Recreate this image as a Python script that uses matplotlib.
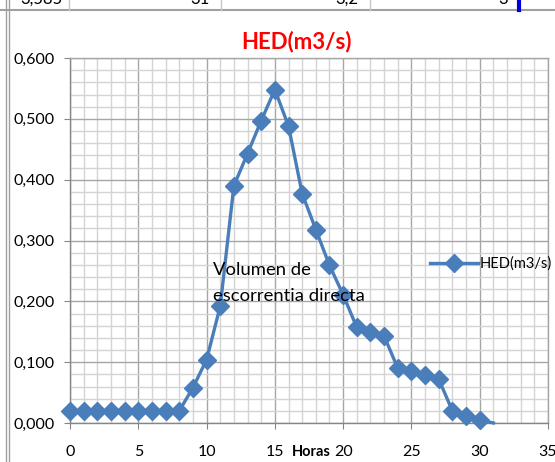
import matplotlib.pyplot as plt
from matplotlib.lines import Line2D
from matplotlib.ticker import MultipleLocator, FuncFormatter

# hidrograma de escorrentia directa
horas = list(range(0, 32))
hed = [0.020, 0.020, 0.020, 0.020, 0.020, 0.020, 0.020, 0.020, 0.020,
       0.058, 0.104, 0.192, 0.390, 0.443, 0.497, 0.548, 0.488, 0.377,
       0.318, 0.259, 0.211, 0.157, 0.150, 0.143, 0.090, 0.085, 0.079,
       0.072, 0.020, 0.012, 0.005, 0.000]
n_marcas = 31  # el ultimo punto no lleva marcador

azul = '#4a7ebb'
plt.rcParams['font.family'] = ['Lato', 'DejaVu Sans']

fig = plt.figure(figsize=(5.55, 4.62), dpi=100)
ax = fig.add_axes([70 / 555, 39 / 462, 478 / 555, 365 / 462])

ax.plot(horas, hed, color=azul, lw=2.4, clip_on=False, zorder=3)
ax.plot(horas[:n_marcas], hed[:n_marcas], ls='none', marker='D', ms=9,
        color=azul, clip_on=False, zorder=4)

ax.set_xlim(0, 35)
ax.set_ylim(0, 0.6)
ax.xaxis.set_major_locator(MultipleLocator(5))
ax.xaxis.set_minor_locator(MultipleLocator(1))
ax.yaxis.set_major_locator(MultipleLocator(0.1))
ax.yaxis.set_minor_locator(MultipleLocator(0.02))
ax.yaxis.set_major_formatter(FuncFormatter(lambda v, p: f'{v:.3f}'.replace('.', ',')))

ax.grid(which='minor', color='#d4d4d4', lw=1.0, zorder=0)
ax.grid(which='major', color='#a6a6a6', lw=1.0, zorder=1)
ax.set_axisbelow(True)
for s in ax.spines.values():
    s.set_color('#a6a6a6')
    s.set_linewidth(1.0)
ax.spines['left'].set_color('#868686')
ax.spines['bottom'].set_color('#868686')
ax.tick_params(which='major', length=4, color='#868686', labelsize=11.5,
               labelcolor='black')
ax.tick_params(axis='x', pad=12)
ax.tick_params(axis='y', pad=7)
ax.tick_params(which='minor', length=0)

ax.text(0.473, 1.045, 'HED(m3/s)', transform=ax.transAxes, ha='center',
        va='center', color='#ff0000', fontsize=16, fontweight='bold')
ax.text(0.504, -0.08, 'Horas', transform=ax.transAxes, ha='center', va='center',
        fontsize=10.5, fontweight='bold')
ax.text(10.45, 0.265, 'Volumen de\nescorrentia directa', ha='left', va='top',
        fontsize=13.3, linespacing=1.8, zorder=5)

h = Line2D([], [], color=azul, lw=2.4, marker='D', ms=9)
ax.legend([h], ['HED(m3/s)'], loc='center left', bbox_to_anchor=(0.741, 0.436),
          frameon=False, fontsize=10.5, handlelength=3.3, handletextpad=0.1,
          borderaxespad=0)

# recorte de la hoja de calculo
W, H = 555, 462
fig.add_artist(Line2D([0, 1], [1 - 10 / H, 1 - 10 / H], color='#a0a0a0', lw=1.5))
for xp in (6, 9):
    fig.add_artist(Line2D([xp / W, xp / W], [0, 1], color='#a0a0a0', lw=1.0))
for xp in (69, 221, 370):
    fig.add_artist(Line2D([xp / W, xp / W], [1 - 10 / H, 1], color='#c8c8c8', lw=1.0))
fig.add_artist(Line2D([519 / W, 519 / W], [1 - 10 / H, 1], color='#0000dd', lw=3))
for xp, t in ((63, '3,585'), (210, '31'), (358, '3,2'), (508, '3')):
    fig.text(xp / W, 1 - 4 / H, t, ha='right', va='baseline', fontsize=12)

fig.savefig('out.png', dpi=100)
